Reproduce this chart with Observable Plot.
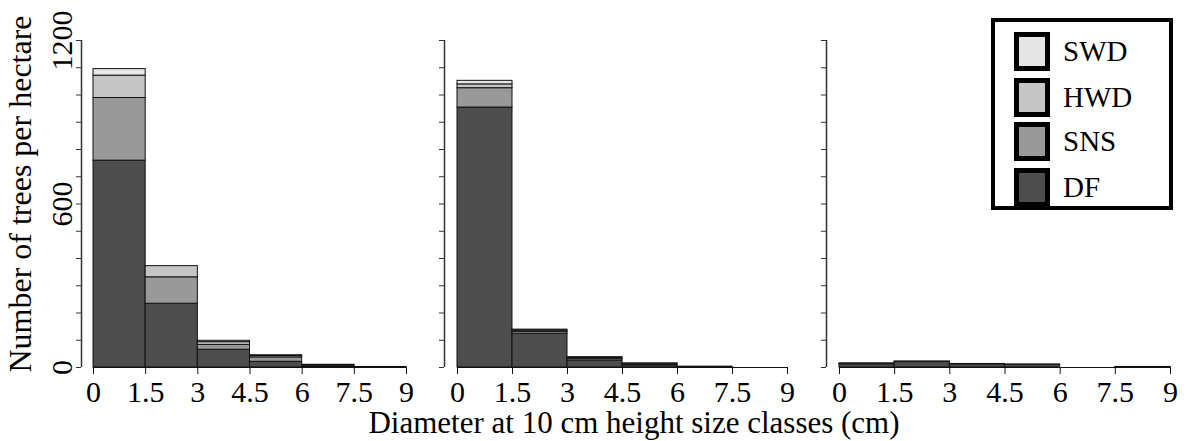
<!DOCTYPE html>
<html>
<head>
<meta charset="utf-8">
<script src="https://cdn.jsdelivr.net/npm/d3@7"></script>
<script src="https://cdn.jsdelivr.net/npm/@observablehq/plot@0.6"></script>
<style>
  body { margin: 0; background: #fff; }
  #wrap { position: relative; width: 1195px; height: 441px; overflow: hidden; background: #fff;
          font-family: "Liberation Serif", "Times New Roman", serif; color: #000; }
  .panel { position: absolute; top: 0; }
  #xtitle { position: absolute; left: 634px; top: 407px; transform: translateX(-50%);
            font-size: 31px; line-height: 31px; white-space: nowrap; }
  #legend { position: absolute; left: 991px; top: 18px; width: 182px; height: 192px;
            box-sizing: border-box; border: 4px solid #000; background: #fff; }
  .lrow { position: absolute; left: 19px; display: flex; align-items: center; height: 39px; }
  .sw { width: 36px; height: 39px; box-sizing: border-box; border: 5px solid #000; }
  .lab { margin-left: 13px; font-size: 29px; line-height: 29px; }
</style>
</head>
<body>
<div id="wrap"></div>
<script>
// ---- data ----
const species = ["DF", "SNS", "HWD", "SWD"];            // stacking order, bottom to top
const speciesColors = ["#4d4d4d", "#999999", "#c6c6c6", "#e6e6e6"];
const classStart = [0, 1.5, 3, 4.5, 6, 7.5];
const classEnd   = [1.5, 3, 4.5, 6, 7.5, 9];
const xTicks = [0, 1.5, 3, 4.5, 6, 7.5, 9];
const yTicks = [0, 100, 200, 300, 400, 500, 600, 700, 800, 900, 1000, 1100, 1200];
const yTickLabels = [0, 600, 1200];
const yTitle = "Number of trees per hectare";
const xTitle = "Diameter at 10 cm height size classes (cm)";

// panel 1
const p1DF  = [759, 234, 65, 21, 3, 1];
const p1SNS = [230, 97, 18, 16, 2, 0];
const p1HWD = [82, 41, 10, 5, 4, 1];
const p1SWD = [24, 0, 5, 3, 1, 0];
// panel 2
const p2DF  = [954, 124, 26, 8, 1, 0];
const p2SNS = [71, 7, 6, 4, 1, 0];
const p2HWD = [14, 4, 3, 2, 1, 0];
const p2SWD = [13, 4, 3, 1, 0, 0];
// panel 3
const p3DF  = [12, 20, 12, 10, 0, 1];
const p3SNS = [2, 1, 1, 1, 0, 1];
const p3HWD = [1, 1, 0, 0, 0, 0];
const p3SWD = [0, 0, 0, 0, 0, 0];

function rows(seriesList) {
  const out = [];
  seriesList.forEach((vals, s) => {
    vals.forEach((v, i) => out.push({species: species[s], x1: classStart[i], x2: classEnd[i], value: v}));
  });
  return out;
}

const panels = [
  {left: 0,   width: 420, mL: 93, mR: 14, off: 12, data: rows([p1DF, p1SNS, p1HWD, p1SWD]), first: true},
  {left: 420, width: 380, mL: 37, mR: 13, off: 13, data: rows([p2DF, p2SNS, p2HWD, p2SWD])},
  {left: 800, width: 395, mL: 39, mR: 25, off: 13, data: rows([p3DF, p3SNS, p3HWD, p3SWD])}
];

const wrap = document.getElementById("wrap");

panels.forEach(p => {
  const marks = [
    Plot.rectY(p.data, Plot.stackY({
      x1: "x1", x2: "x2", y: "value", fill: "species", order: species,
      stroke: "#111", strokeWidth: 1
    })),
    Plot.ruleY([yTicks[0]], {x1: xTicks[0], x2: xTicks[xTicks.length - 1], stroke: "#111", strokeWidth: 1.2}),
    Plot.ruleX([xTicks[0]], {y1: yTicks[0], y2: yTicks[yTicks.length - 1], dx: -p.off, stroke: "#333", strokeWidth: 1.5}),
    Plot.axisX({ticks: xTicks, tickSize: 7, tickPadding: 6, tickFormat: d => String(d), stroke: "#111"}),
    Plot.axisY({ticks: yTicks, tickSize: 5, tickFormat: () => "", dx: -p.off, stroke: "#333"})
  ];
  if (p.first) {
    marks.push(
      Plot.text(yTickLabels, {y: d => d, text: d => String(d), frameAnchor: "left", rotate: -90,
        textAnchor: "middle", lineAnchor: "bottom", dx: -22, fontSize: 30, fill: "#000"}),
      Plot.text([yTitle], {text: d => d, frameAnchor: "left", rotate: -90, textAnchor: "middle",
        lineAnchor: "bottom", dx: -63, dy: -10, fontSize: 32, fill: "#000"})
    );
  }
  const svg = Plot.plot({
    width: p.width, height: 441,
    marginLeft: p.mL, marginRight: p.mR, marginTop: 40, marginBottom: 74,
    x: {domain: [xTicks[0], xTicks[xTicks.length - 1]], label: null},
    y: {domain: [yTicks[0], yTicks[yTicks.length - 1]], label: null},
    color: {domain: species, range: speciesColors},
    style: {fontFamily: "Liberation Serif, Times New Roman, serif", fontSize: "30px", color: "#000", background: "transparent", overflow: "visible"},
    marks
  });
  svg.classList.add("panel");
  svg.style.left = p.left + "px";
  wrap.appendChild(svg);
});

// x title
const xt = document.createElement("div");
xt.id = "xtitle";
xt.textContent = xTitle;
wrap.appendChild(xt);

// legend (top to bottom: SWD, HWD, SNS, DF)
const legend = document.createElement("div");
legend.id = "legend";
const rowTops = [10, 56, 100, 146];
species.slice().reverse().forEach((s, i) => {
  const row = document.createElement("div");
  row.className = "lrow";
  row.style.top = rowTops[i] + "px";
  const sw = document.createElement("div");
  sw.className = "sw";
  sw.style.background = speciesColors[species.indexOf(s)];
  const lab = document.createElement("span");
  lab.className = "lab";
  lab.textContent = s;
  row.appendChild(sw);
  row.appendChild(lab);
  legend.appendChild(row);
});
wrap.appendChild(legend);
</script>
</body>
</html>
